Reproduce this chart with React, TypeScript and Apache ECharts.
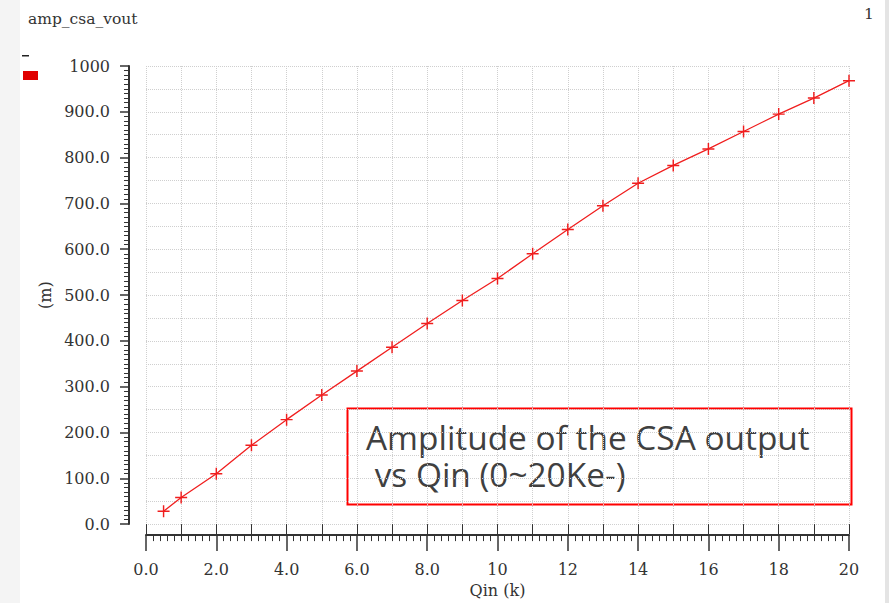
import React, { useEffect, useRef } from "react";
import * as echarts from "echarts";

const qinK = [0.5, 1, 2, 3, 4, 5, 6, 7, 8, 9, 10, 11, 12, 13, 14, 15, 16, 17, 18, 19, 20];
const voutM = [28, 58, 110, 172, 228, 282, 334, 386, 438, 488, 536, 590, 643, 695, 744, 783, 819, 857, 895, 930, 968];
const seriesName = "amp_csa_vout";
const noteLines = ["Amplitude of the CSA output", " vs Qin (0~20Ke-)"];

const SERIF = "'DejaVu Serif', serif";
const TEXT = "#333333";
const RED = "#f01e1e";
const FS = 16;

export default function App() {
  const ref = useRef<HTMLDivElement>(null);
  useEffect(() => {
    const chart = echarts.init(ref.current!, null, { renderer: "svg" });
    const grid = { left: 146, top: 66, width: 703, height: 459.6 };
    chart.setOption({
      animation: false,
      backgroundColor: "#ffffff",
      grid,
      title: {
        text: seriesName,
        left: 23,
        top: 6,
        textStyle: { fontFamily: SERIF, fontSize: 15.5, fontWeight: "normal", color: TEXT },
      },
      xAxis: [
        {
          type: "value",
          min: 0,
          max: 20,
          interval: 2,
          offset: 11,
          name: "Qin (k)",
          nameLocation: "middle",
          nameGap: 45,
          nameTextStyle: { fontFamily: SERIF, fontSize: FS, color: TEXT },
          axisLine: { show: true, onZero: false, lineStyle: { color: "#333", width: 2 } },
          axisTick: { show: true, length: 16, lineStyle: { color: "#333", width: 1.5 } },
          minorTick: { show: true, splitNumber: 10, length: 6, lineStyle: { color: "#333", width: 1 } },
          axisLabel: {
            margin: 26,
            fontFamily: SERIF,
            fontSize: FS,
            color: TEXT,
            formatter: (v: number) => (v < 10 ? v.toFixed(1) : String(v)),
          },
          splitLine: { show: false },
        },
        {
          type: "value",
          min: 0,
          max: 20,
          interval: 1,
          offset: 11,
          position: "bottom",
          axisLine: { show: false },
          axisTick: { show: true, length: 10, lineStyle: { color: "#333", width: 1 } },
          axisLabel: { show: false },
          splitLine: { show: true, lineStyle: { color: "#cfcfcf", type: "dotted", width: 1 } },
        },
      ],
      yAxis: [
        {
          type: "value",
          min: 0,
          max: 1000,
          interval: 100,
          offset: 17,
          name: "(m)",
          nameLocation: "middle",
          nameGap: 76,
          nameTextStyle: { fontFamily: SERIF, fontSize: FS, color: TEXT },
          axisLine: { show: true, onZero: false, lineStyle: { color: "#333", width: 2 } },
          axisTick: { show: true, length: 9, lineStyle: { color: "#333", width: 1.5 } },
          minorTick: { show: true, splitNumber: 10, length: 5, lineStyle: { color: "#333", width: 1 } },
          axisLabel: {
            margin: 19,
            fontFamily: SERIF,
            fontSize: FS,
            color: TEXT,
            formatter: (v: number) => (v >= 1000 ? String(v) : v.toFixed(1)),
          },
          splitLine: { show: false },
        },
        {
          type: "value",
          min: 0,
          max: 1000,
          interval: 50,
          position: "left",
          axisLine: { show: false },
          axisTick: { show: false },
          axisLabel: { show: false },
          splitLine: { show: true, lineStyle: { color: "#cfcfcf", type: "dotted", width: 1 } },
        },
      ],
      series: [
        {
          name: seriesName,
          type: "line",
          xAxisIndex: 0,
          yAxisIndex: 0,
          data: qinK.map((q, i) => [q, voutM[i]]),
          lineStyle: { color: RED, width: 1.3 },
          itemStyle: { color: RED },
          symbol: "path://M4.4,0H5.6V4.4H10V5.6H5.6V10H4.4V5.6H0V4.4H4.4Z",
          symbolSize: 12,
          showSymbol: true,
        },
      ],
      graphic: [
        { type: "rect", left: 0, top: 0, shape: { width: 20, height: 603 }, style: { fill: "#f4f4f4" }, silent: true },
        { type: "rect", left: 885, top: 0, shape: { width: 4, height: 603 }, style: { fill: "#e4e4e4" }, silent: true },
        { type: "rect", left: 22, top: 55, shape: { width: 7, height: 1.5 }, style: { fill: "#222" } },
        { type: "rect", left: 23, top: 71, shape: { width: 15, height: 9 }, style: { fill: "#e00000" } },
        {
          type: "text",
          left: 864,
          top: 6,
          style: { text: "1", font: `15.5px ${SERIF}`, fill: TEXT },
        },
        {
          type: "rect",
          left: 345,
          top: 406,
          shape: { width: 504, height: 96 },
          style: { fill: "none", stroke: "#ff0000", lineWidth: 2 },
        },
        {
          type: "text",
          left: 366,
          top: 418,
          style: {
            text: noteLines.join("\n"),
            font: "33.4px 'Open Sans', sans-serif",
            lineHeight: 37,
            fill: "#404040",
          },
        },
      ],
    });
    return () => chart.dispose();
  }, []);
  return <div ref={ref} style={{ position: "fixed", left: 0, top: 0, width: 889, height: 603 }} />;
}
